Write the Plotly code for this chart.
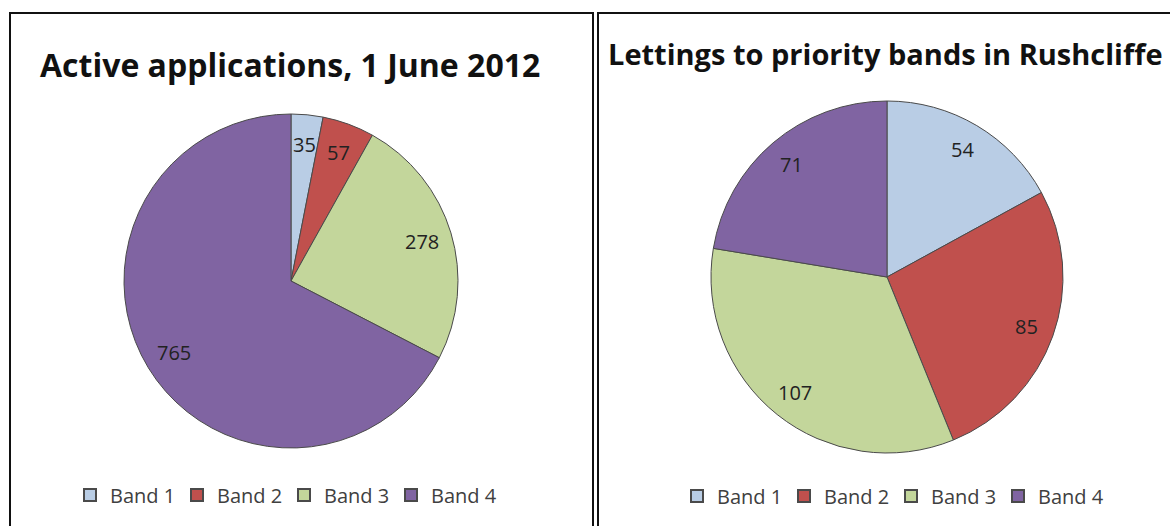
import math
import plotly.graph_objects as go

bands = ["Band 1", "Band 2", "Band 3", "Band 4"]
active_values = [35, 57, 278, 765]
letting_values = [54, 85, 107, 71]
colors = ["#B9CDE5", "#C0504D", "#C3D69B", "#8064A2"]
title_left = "Active applications, 1 June 2012"
title_right = "Lettings to priority bands in Rushcliffe"

W, H = 1170, 526
FONT = "'Open Sans', Lato, sans-serif"

fig = go.Figure()

# pie geometry (pixels): centre and radius
left_c, left_r = (291, 281), 167
right_c, right_r = (887, 277), 176


def dom(c, r):
    cx, cy = c
    return dict(x=[(cx - r) / W, (cx + r) / W],
                y=[(H - cy - r) / H, (H - cy + r) / H])


fig.add_trace(go.Pie(
    labels=bands, values=active_values, sort=False, direction="clockwise",
    rotation=0, textinfo="none", hoverinfo="label+value",
    marker=dict(colors=colors, line=dict(color="#4a4a4a", width=1)),
    domain=dom(left_c, left_r), legend="legend", showlegend=True,
))
# distinct (trailing-space) labels so the second pie gets its own legend entries
fig.add_trace(go.Pie(
    labels=[b + " " for b in bands], values=letting_values, sort=False,
    direction="clockwise", rotation=0, textinfo="none", hoverinfo="label+value",
    marker=dict(colors=colors, line=dict(color="#4a4a4a", width=1)),
    domain=dom(right_c, right_r), legend="legend2", showlegend=True,
))


def add_labels(values, c, r, frac):
    total = sum(values)
    cum = 0
    for v in values:
        mid = (cum + v / 2) / total * 2 * math.pi
        cum += v
        px = c[0] + frac * r * math.sin(mid)
        py = c[1] - frac * r * math.cos(mid)
        fig.add_annotation(x=px / W, y=1 - py / H, xref="paper", yref="paper",
                           xanchor="center", yanchor="middle",
                           text=str(v), showarrow=False,
                           font=dict(family=FONT, size=20, color="#222222"))


add_labels(active_values, left_c, left_r, 0.82)
add_labels(letting_values, right_c, right_r, 0.84)

# titles
fig.add_annotation(x=290 / W, y=1 - 64 / H, xref="paper", yref="paper",
                   xanchor="center", yanchor="middle",
                   text="<b>" + title_left + "</b>", showarrow=False,
                   font=dict(family=FONT, size=32, color="#111111"))
fig.add_annotation(x=606 / W, y=1 - 54 / H, xref="paper", yref="paper",
                   xanchor="left", yanchor="middle",
                   text="<b>" + title_right + "</b>", showarrow=False,
                   font=dict(family=FONT, size=29, color="#111111"))

# panel frames
fig.add_shape(type="rect", xref="paper", yref="paper",
              x0=10 / W, x1=593 / W, y0=-0.05, y1=1 - 13 / H,
              line=dict(color="#111111", width=2))
fig.add_shape(type="rect", xref="paper", yref="paper",
              x0=598 / W, x1=1.05, y0=-0.05, y1=1 - 13 / H,
              line=dict(color="#111111", width=2))

legend_common = dict(orientation="h", xanchor="left", yanchor="middle",
                     font=dict(family=FONT, size=20, color="#404040"),
                     bgcolor="rgba(0,0,0,0)", entrywidth=62, entrywidthmode="pixels",
                     itemsizing="constant", traceorder="normal")

fig.update_layout(
    width=W, height=H,
    margin=dict(l=0, r=0, t=0, b=0),
    paper_bgcolor="white", plot_bgcolor="white",
    legend=dict(x=70 / W, y=1 - 495 / H, **legend_common),
    legend2=dict(x=677 / W, y=1 - 496 / H, **legend_common),
)

fig.write_html("out.html", config={"displayModeBar": False},
               post_script="document.body.style.margin='0';")
